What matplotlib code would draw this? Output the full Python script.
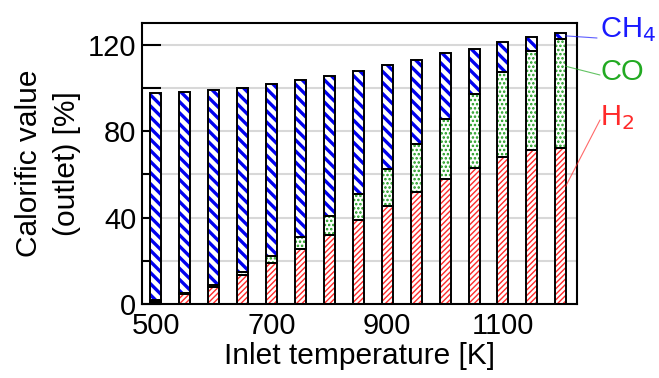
import matplotlib
matplotlib.use('Agg')
import matplotlib.pyplot as plt
import numpy as np

plt.rcParams['font.family'] = ['Liberation Sans', 'DejaVu Sans']

temps = [500, 550, 600, 650, 700, 750, 800, 850, 900, 950, 1000, 1050, 1100, 1150, 1200]
h2 = [1.0, 4.5, 8.0, 13.4, 19.0, 25.5, 31.8, 38.8, 45.2, 51.8, 57.8, 63.0, 68.0, 71.4, 72.3]
co_top = [2.0, 5.0, 9.0, 15.0, 22.0, 30.8, 40.6, 51.0, 62.6, 73.8, 85.5, 97.0, 107.5, 117.2, 122.6]
total = [97.5, 98.3, 98.8, 99.8, 101.8, 103.4, 105.4, 107.7, 110.6, 112.9, 116.0, 118.2, 121.0, 123.7, 125.5]

h2 = np.array(h2)
co = np.array(co_top) - h2
ch4 = np.array(total) - np.array(co_top)

fig = plt.figure(figsize=(6.59, 3.78), dpi=100)
ax = fig.add_axes([142/659, 1 - 304/378, (577-142)/659, (304-23)/378])

fs = 21
w = 19
segs = [(h2, np.zeros_like(h2), '#ff2a2a', '//////', 1.0),
        (co, h2, '#1a9a1a', '....', 1.2),
        (ch4, h2 + co, '#0000ee', '\\\\\\', 2.4)]
for vals, base, col, hatch, lw in segs:
    plt.rcParams['hatch.linewidth'] = lw
    ax.bar(temps, vals, width=w, bottom=base, color='white', edgecolor=col,
           hatch=hatch, linewidth=0, zorder=2)
    ax.bar(temps, vals, width=w, bottom=base, fill=False, edgecolor='black',
           linewidth=1.4, zorder=3)

ax.set_xlim(476, 1228)
ax.set_ylim(0, 130)
ax.set_xticks([500, 700, 900, 1100])
ax.set_yticks([0, 40, 80, 120])
ax.set_yticks([20, 60, 100], minor=True)
ax.yaxis.grid(True, which='both', color='#d8d8d8', linewidth=1.5, zorder=0)
ax.set_axisbelow(True)
ax.tick_params(axis='y', which='both', direction='in', length=14, width=1.5,
               labelsize=fs, pad=4)
ax.tick_params(axis='x', length=0, labelsize=fs, pad=6)
for s in ax.spines.values():
    s.set_linewidth(1.5)

ax.set_xlabel('Inlet temperature [K]', fontsize=fs + 0.5, labelpad=1)
ax.set_ylabel('Calorific value\n(outlet) [%]', fontsize=fs + 0.5, labelpad=5, linespacing=1.45)

last = len(temps) - 1
labels = [('CH$_4$', '#1a1aff', h2[last] + co[last] + ch4[last] / 2, (597, 38), (600, 30)),
          ('CO', '#22aa22', h2[last] + co[last] * 0.75, (600, 75), (600, 72)),
          ('H$_2$', '#ff2a2a', h2[last] * 0.75, (600, 120), (600, 118))]
for txt, col, yv, lend, tpos in labels:
    ax.annotate('', xy=(temps[last] + 8, yv), xycoords='data',
                xytext=(lend[0], 378 - lend[1]), textcoords='figure pixels',
                arrowprops=dict(arrowstyle='-', color=col, lw=0.8, alpha=0.7,
                                shrinkA=0, shrinkB=0),
                annotation_clip=False)
    fig.text(tpos[0] / 659, 1 - tpos[1] / 378, txt, color=col, fontsize=fs,
             ha='left', va='center')

fig.savefig('out.png', dpi=100)
